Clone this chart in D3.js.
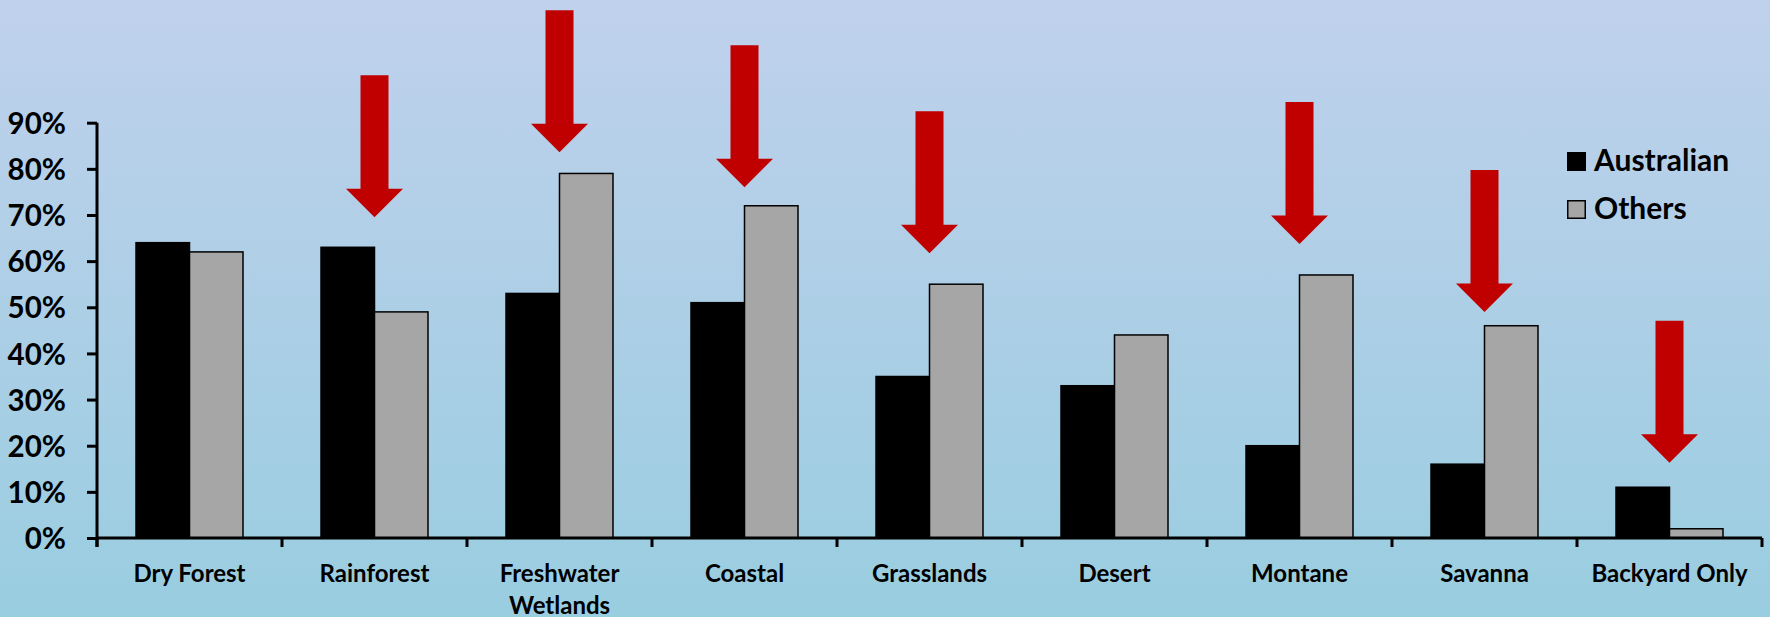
<!DOCTYPE html>
<html>
<head>
<meta charset="utf-8">
<script src="https://cdn.jsdelivr.net/npm/d3@7"></script>
<style>
  html, body { margin: 0; padding: 0; overflow: hidden; }
  svg text { font-family: Lato, "Open Sans", sans-serif; font-weight: bold; fill: #000; }
</style>
</head>
<body>
<div id="chart"></div>
<script>
// habitat categories and the two series (percent)
var categories = ["Dry Forest", "Rainforest", "Freshwater Wetlands", "Coastal", "Grasslands",
                  "Desert", "Montane", "Savanna", "Backyard Only"];
var series = ["Australian", "Others"];
var australian = [64, 63, 53, 51, 35, 33, 20, 16, 11];
var others = [62, 49, 79, 72, 55, 44, 57, 46, 2];
// where the red arrows point to (percent), null = no arrow
var arrowTips = [null, 69.5, 83.6, 76, 61.7, null, 63.7, 49, 16.3];
var yTicks = [0, 10, 20, 30, 40, 50, 60, 70, 80, 90];

var svgWidth = 1770;
var svgHeight = 617;
var margin = { top: 122.7, right: 8, bottom: 79, left: 97 };
var colors = { Australian: "#000000", Others: "#a6a6a6" };

var svg = d3.select("#chart")
  .append("svg")
  .attr("width", svgWidth)
  .attr("height", svgHeight);

// background gradient
var grad = svg.append("defs").append("linearGradient")
  .attr("id", "bg")
  .attr("x1", 0).attr("y1", 0).attr("x2", 0).attr("y2", 1);
grad.append("stop").attr("offset", "0%").attr("stop-color", "#c0d1ec");
grad.append("stop").attr("offset", "100%").attr("stop-color", "#99cde0");
svg.append("rect")
  .attr("width", svgWidth)
  .attr("height", svgHeight)
  .attr("fill", "url(#bg)");

var x0 = d3.scaleBand()
  .domain(categories)
  .range([margin.left, svgWidth - margin.right])
  .padding(0);

var x1 = d3.scaleBand()
  .domain(series)
  .range([0, x0.bandwidth()])
  .paddingInner(0)
  .paddingOuter(0.729);

var y = d3.scaleLinear()
  .domain([0, 90])
  .range([svgHeight - margin.bottom, margin.top]);

var baseY = y(0);

// bars
var rows = categories.map(function(c, i) {
  return { cat: c, values: [{ key: "Australian", v: australian[i] }, { key: "Others", v: others[i] }] };
});

var groups = svg.selectAll("g.group")
  .data(rows)
  .enter()
  .append("g")
  .attr("class", "group")
  .attr("transform", d => `translate(${x0(d.cat)},0)`);

groups.selectAll("rect")
  .data(d => d.values)
  .enter()
  .append("rect")
  .attr("x", d => x1(d.key))
  .attr("y", d => y(d.v))
  .attr("width", x1.bandwidth())
  .attr("height", d => baseY - y(d.v))
  .attr("fill", d => colors[d.key])
  .attr("stroke", "#000")
  .attr("stroke-width", 1.5);

// y axis
var leftAxis = d3.axisLeft(y)
  .tickValues(yTicks)
  .tickFormat(d => d + "%")
  .tickSize(10)
  .tickSizeOuter(0)
  .tickPadding(21);

var yAxis = svg.append("g")
  .attr("transform", `translate(${margin.left},0)`)
  .call(leftAxis);
yAxis.select(".domain").attr("stroke", "#000").attr("stroke-width", 3)
  .attr("d", `M0,${y(90)}V${baseY + 9}`);
yAxis.selectAll(".tick line").attr("stroke", "#000").attr("stroke-width", 3);
yAxis.selectAll(".tick text")
  .style("font-size", "29.5px")
  .attr("dy", "0.36em");

// x axis line and boundary ticks
svg.append("line")
  .attr("x1", margin.left).attr("x2", svgWidth - margin.right)
  .attr("y1", baseY).attr("y2", baseY)
  .attr("stroke", "#000").attr("stroke-width", 3);

var bounds = categories.map(c => x0(c)).concat([x0.range()[1]]);
svg.selectAll("line.xtick")
  .data(bounds)
  .enter()
  .append("line")
  .attr("class", "xtick")
  .attr("x1", d => d).attr("x2", d => d)
  .attr("y1", baseY).attr("y2", baseY + 9)
  .attr("stroke", "#000").attr("stroke-width", 3);

// category labels, wrapped to the band width
var xLabels = svg.selectAll("text.xlabel")
  .data(categories)
  .enter()
  .append("text")
  .attr("class", "xlabel")
  .attr("x", d => x0(d) + x0.bandwidth() / 2)
  .attr("y", baseY + 44)
  .attr("text-anchor", "middle")
  .style("font-size", "24px")
  .text(d => d);

xLabels.each(function(d) {
  var text = d3.select(this);
  var words = d.split(" ");
  var xPos = text.attr("x");
  text.text(null);
  var line = [];
  var tspan = text.append("tspan").attr("x", xPos).attr("dy", 0);
  words.forEach(function(w) {
    line.push(w);
    tspan.text(line.join(" "));
    if (tspan.node().getComputedTextLength() > x0.bandwidth() - 8 && line.length > 1) {
      line.pop();
      tspan.text(line.join(" "));
      line = [w];
      tspan = text.append("tspan").attr("x", xPos).attr("dy", "32px").text(w);
    }
  });
});

// red arrows
var shaftW = 28, headW = 57, headH = 28.5, arrowLen = 142;
function arrowPath(cx, tipY) {
  var top = tipY - arrowLen;
  var neck = tipY - headH;
  return [
    [cx - shaftW / 2, top], [cx + shaftW / 2, top], [cx + shaftW / 2, neck],
    [cx + headW / 2, neck], [cx, tipY], [cx - headW / 2, neck], [cx - shaftW / 2, neck]
  ];
}
svg.selectAll("path.arrow")
  .data(categories.map((c, i) => ({ cat: c, tip: arrowTips[i] })).filter(d => d.tip !== null))
  .enter()
  .append("path")
  .attr("class", "arrow")
  .attr("d", d => d3.line()(arrowPath(x0(d.cat) + x0.bandwidth() / 2, y(d.tip))) + "Z")
  .attr("fill", "#c00000");

// legend
var legend = svg.selectAll("g.legend")
  .data(series)
  .enter()
  .append("g")
  .attr("class", "legend")
  .attr("transform", (d, i) => `translate(1567,${152 + i * 48})`);

legend.append("rect")
  .attr("x", 0.75).attr("y", 0.75)
  .attr("width", 17.5).attr("height", 17.5)
  .attr("fill", d => colors[d])
  .attr("stroke", "#000")
  .attr("stroke-width", 1.5);

legend.append("text")
  .attr("x", 27)
  .attr("y", 19)
  .style("font-size", "30px")
  .text(d => d);
</script>
</body>
</html>
